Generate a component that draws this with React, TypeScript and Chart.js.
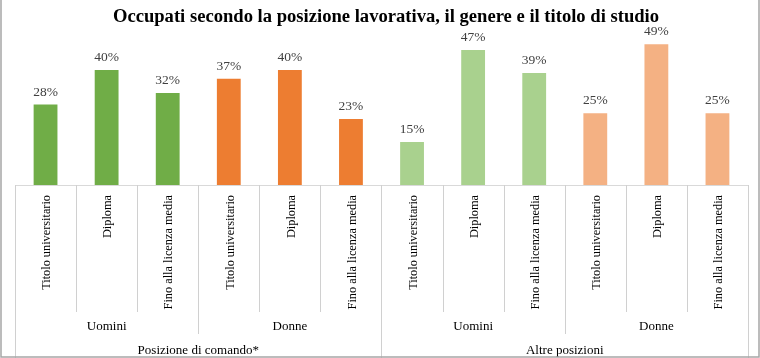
import React, { useEffect, useRef } from "react";
import { Chart, registerables } from "chart.js";

Chart.register(...registerables);

const TITLE = "Occupati secondo la posizione lavorativa, il genere e il titolo di studio";
const categories = [
  "Titolo universitario", "Diploma", "Fino alla licenza media",
  "Titolo universitario", "Diploma", "Fino alla licenza media",
  "Titolo universitario", "Diploma", "Fino alla licenza media",
  "Titolo universitario", "Diploma", "Fino alla licenza media",
];
const values = [28, 40, 32, 37, 40, 23, 15, 47, 39, 25, 49, 25];
const barColors = [
  "#70AD47", "#70AD47", "#70AD47",
  "#ED7D31", "#ED7D31", "#ED7D31",
  "#A9D18E", "#A9D18E", "#A9D18E",
  "#F4B183", "#F4B183", "#F4B183",
];
const genderGroups = ["Uomini", "Donne", "Uomini", "Donne"];
const positionGroups = ["Posizione di comando*", "Altre posizioni"];

const SERIF = "'Liberation Serif', 'DejaVu Serif', serif";

const multiLevelPlugin = {
  id: "multiLevel",
  afterDraw(chart: any) {
    const ctx = chart.ctx as CanvasRenderingContext2D;
    const x = chart.scales.x;
    const area = chart.chartArea;
    const n = categories.length;
    const half = (x.getPixelForValue(1) - x.getPixelForValue(0)) / 2;
    const axisY = area.bottom;
    const H = chart.height;
    ctx.save();
    // dividers
    ctx.strokeStyle = "#d0d0d0";
    ctx.lineWidth = 1;
    for (let i = 0; i <= n; i++) {
      const px = Math.round(x.getPixelForValue(i) - half) + 0.5;
      let end = axisY + 127;
      if (i % 3 === 0) end = axisY + 149;
      if (i % 6 === 0) end = H;
      ctx.beginPath();
      ctx.moveTo(px, axisY);
      ctx.lineTo(px, end);
      ctx.stroke();
    }
    // gender labels
    ctx.fillStyle = "#000";
    ctx.font = `13px ${SERIF}`;
    ctx.textAlign = "center";
    ctx.textBaseline = "middle";
    genderGroups.forEach((g, gi) => {
      const cx = x.getPixelForValue(gi * 3 + 1);
      ctx.fillText(g, cx, axisY + 142);
    });
    positionGroups.forEach((g, gi) => {
      const cx = (x.getPixelForValue(gi * 6 + 2) + x.getPixelForValue(gi * 6 + 3)) / 2;
      ctx.fillText(g, cx, axisY + 166);
    });
    // data labels
    const meta = chart.getDatasetMeta(0);
    ctx.fillStyle = "#404040";
    ctx.font = `13.5px ${SERIF}`;
    ctx.textBaseline = "alphabetic";
    meta.data.forEach((bar: any, i: number) => {
      ctx.fillText(values[i] + "%", bar.x, bar.y - 9);
    });
    // title
    ctx.fillStyle = "#000";
    ctx.font = `bold 18.6px ${SERIF}`;
    ctx.textAlign = "center";
    ctx.fillText(TITLE, 386, 22);
    // outer border
    ctx.strokeStyle = "#a6a6a6";
    ctx.lineWidth = 1.5;
    ctx.beginPath();
    ctx.moveTo(1, 0);
    ctx.lineTo(1, H - 1);
    ctx.lineTo(chart.width - 1, H - 1);
    ctx.lineTo(chart.width - 1, 0);
    ctx.stroke();
    ctx.restore();
  },
};

export default function App() {
  const ref = useRef<HTMLCanvasElement>(null);
  useEffect(() => {
    document.body.style.margin = "0";
    const chart = new Chart(ref.current!, {
      type: "bar",
      data: {
        labels: categories,
        datasets: [
          {
            data: values,
            backgroundColor: barColors,
            borderWidth: 0,
            barPercentage: 0.39,
            categoryPercentage: 1,
          },
        ],
      },
      options: {
        animation: false,
        responsive: false,
        maintainAspectRatio: false,
        layout: { padding: { left: 15, right: 12, top: 12.5, bottom: 0 } },
        plugins: { legend: { display: false }, tooltip: { enabled: false }, title: { display: false } },
        scales: {
          x: {
            grid: { display: false },
            border: { display: true, color: "#d9d9d9", width: 1 },
            ticks: {
              autoSkip: false,
              maxRotation: 90,
              minRotation: 90,
              padding: 2,
              labelOffset: 1.5,
              color: "#000",
              font: { family: SERIF, size: 12.3 },
            },
            afterFit: (s: any) => {
              s.height = 173;
            },
          },
          y: {
            display: false,
            min: 0,
            max: 60,
          },
        },
      },
      plugins: [multiLevelPlugin],
    });
    return () => chart.destroy();
  }, []);
  return (
    <div style={{ position: "fixed", left: 0, top: 0, width: 760, height: 358 }}>
      <canvas ref={ref} width={760} height={358} style={{ width: 760, height: 358 }} />
    </div>
  );
}
